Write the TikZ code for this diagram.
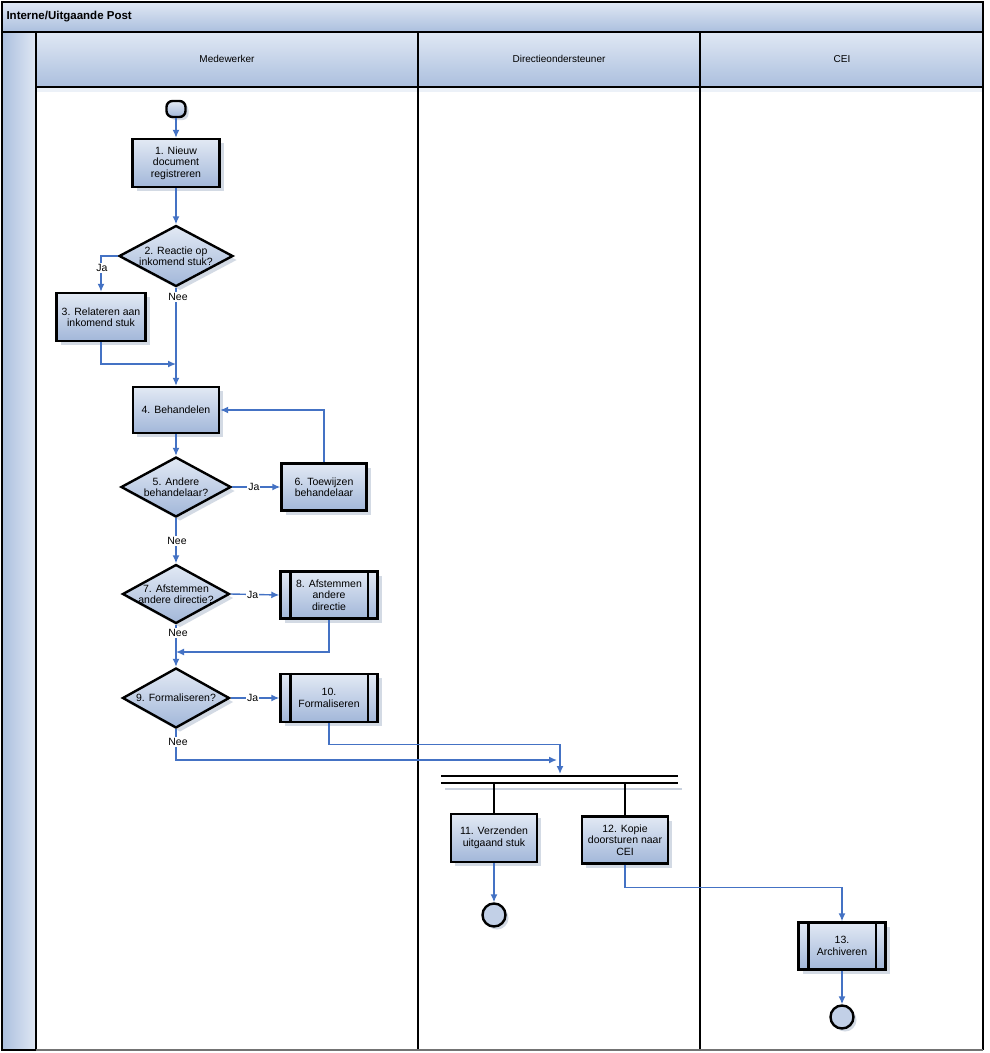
\documentclass[tikz,border=0pt]{standalone}
\usepackage{fontspec}
\setmainfont{Liberation Sans}
\usetikzlibrary{shadows,arrows.meta,shapes.geometric,calc}
\definecolor{flowblue}{HTML}{4472C4}
\definecolor{boxtop}{HTML}{E2E9F4}
\definecolor{boxbot}{HTML}{A2B7D9}
\definecolor{hdrtop}{HTML}{E0E8F4}
\definecolor{hdrbot}{HTML}{ABBFDE}
\definecolor{endfill}{HTML}{C2D0E7}
\definecolor{shadowc}{HTML}{C9D1DE}
\tikzset{
  every node/.style={font=\fontsize{10.5}{11.5}\selectfont},
  procbox/.style={draw=black, line width=2.4pt, top color=boxtop, bottom color=boxbot,
    align=center, inner sep=1pt,
    drop shadow={shadow xshift=4pt, shadow yshift=-4pt, fill=shadowc, opacity=0.8}},
  decision/.style={diamond, draw=black, line width=2.4pt, top color=boxtop, bottom color=boxbot,
    inner sep=0pt, aspect=1.8,
    drop shadow={shadow xshift=4pt, shadow yshift=-4pt, fill=shadowc, opacity=0.8}},
  endnode/.style={circle, draw=black, line width=2.4pt, fill=endfill, minimum size=23pt, inner sep=0pt,
    drop shadow={shadow xshift=3pt, shadow yshift=-3pt, fill=shadowc, opacity=0.8}},
  flow/.style={draw=flowblue, line width=1.4pt, -{Latex[length=8pt,width=7pt]}},
  edgelbl/.style={fill=white, inner sep=1pt, font=\fontsize{10.5}{11}\selectfont},
  hdr/.style={draw=black, line width=2pt, top color=hdrtop, bottom color=hdrbot},
  lanetext/.style={font=\fontsize{10}{11}\selectfont},
  barline/.style={draw=black, line width=2.4pt},
  sidebar/.style={draw=black, line width=2.4pt}
}
\begin{document}
\begin{tikzpicture}[x=1pt,y=-1pt]
\useasboundingbox (0,0) rectangle (990,1053);
\fill[white] (0,0) rectangle (990,1053);
% title bar
\path[hdr] (2,2) rectangle (983,32);
\node[anchor=west, font=\bfseries\fontsize{11.5}{12}\selectfont] (title) at (3,17) {Interne/Uitgaande Post};
% left strip
\path[draw=black, line width=2pt, left color=hdrbot, right color=hdrtop] (2,32) rectangle (36,1050);
% lane headers
\path[hdr] (36,32) rectangle (418,87);
\path[hdr] (418,32) rectangle (700,87);
\path[hdr] (700,32) rectangle (983,87);
\node[lanetext] (l1) at (227,59) {Medewerker};
\node[lanetext] (l2) at (559,59) {Directieondersteuner};
\node[lanetext] (l3) at (842,59) {CEI};
% lane bodies
\fill[hdrtop!60] (37,88) rectangle (982,92);
\draw[black, line width=2pt] (36,87) -- (36,1050);
\draw[black, line width=2pt] (418,87) -- (418,1050);
\draw[black, line width=2pt] (700,87) -- (700,1050);
\draw[black, line width=2pt] (983,87) -- (983,1050);
\draw[black!55, line width=1.6pt] (36,1050) -- (983,1050);

% nodes
\node[draw=black, line width=2.4pt, top color=boxtop, bottom color=boxbot, rounded corners=6pt,
  minimum width=19pt, minimum height=16pt, inner sep=0pt,
  drop shadow={shadow xshift=3pt, shadow yshift=-3pt, fill=shadowc, opacity=0.8}] (s) at (176,109) {};
\node[procbox, minimum width=87pt, minimum height=48pt] (b1) at (176,163) {1. Nieuw\\document\\registreren};
\node[decision, minimum width=114pt, minimum height=61pt,
  label={[align=center]center:2. Reactie op\\inkomend stuk?}] (d2) at (176,256) {};
\node[procbox, minimum width=89pt, minimum height=48pt] (b3) at (101,317) {3. Relateren aan\\inkomend stuk};
\node[procbox, minimum width=86pt, minimum height=46pt] (b4) at (176,410) {4. Behandelen};
\node[decision, minimum width=110pt, minimum height=60pt,
  label={[align=center]center:5. Andere\\behandelaar?}] (d5) at (176,487) {};
\node[procbox, minimum width=85pt, minimum height=47pt] (b6) at (324,487) {6. Toewijzen\\behandelaar};
\node[decision, minimum width=107pt, minimum height=59pt,
  label={[align=center]center:7. Afstemmen\\andere directie?}] (d7) at (176,594) {};
\node[procbox, minimum width=97pt, minimum height=47pt] (b8) at (329,595) {8. Afstemmen\\andere\\directie};
\node[decision, minimum width=107pt, minimum height=60pt,
  label={[align=center]center:9. Formaliseren?}] (d9) at (176,698) {};
\node[procbox, minimum width=97pt, minimum height=48pt] (b10) at (329,698) {10.\\Formaliseren};
\node[procbox, minimum width=86pt, minimum height=48pt] (b11) at (494,838) {11. Verzenden\\uitgaand stuk};
\node[procbox, minimum width=86pt, minimum height=47pt] (b12) at (625,840) {12. Kopie\\doorsturen naar\\CEI};
\node[endnode] (e1) at (494,915) {};
\node[procbox, minimum width=87pt, minimum height=47pt] (b13) at (842,946) {13.\\Archiveren};
\node[endnode] (e2) at (842,1017) {};

% predefined-process side bars
\foreach \n in {b8,b10,b13}{
  \draw[sidebar] ($(\n.north west)+(11,0)$) -- ($(\n.south west)+(11,0)$);
  \draw[sidebar] ($(\n.north east)+(-11,0)$) -- ($(\n.south east)+(-11,0)$);
}

% fork bar
\coordinate (fL1) at (441,776);
\coordinate (fR1) at (678,776);
\coordinate (fL2) at (441,783);
\coordinate (fR2) at (678,783);
\draw[shadowc, line width=2.4pt] (445,789) -- (682,789);
\draw[barline] (fL1) -- (fR1);
\draw[barline] (fL2) -- (fR2);
\coordinate (fin) at (560,774);
\coordinate (st1) at (b11.north |- fL2);
\coordinate (st2) at (b12.north |- fL2);
\draw[barline] (st1) -- (b11.north);
\draw[barline] (st2) -- (b12.north);

% connectors
\coordinate (m1) at (176,364);
\coordinate (m2) at (176,652);
\coordinate (m3) at (557,760);
\draw[flow] (s.south) -- (b1.north);
\draw[flow] (b1.south) -- (d2.north);
\draw[flow] (d2.west) -| (b3.north);
\node[edgelbl] (ja2) at (102,268) {Ja};
\draw[flow] (d2.south) -- (b4.north);
\node[edgelbl] (nee2) at (178,297) {Nee};
\draw[flow] (b3.south) |- (m1);
\draw[flow] (b4.south) -- (d5.north);
\draw[flow] (d5.east) -- (b6.west) node[edgelbl, pos=0.45] (ja5) {Ja};
\draw[flow] (b6.north) |- (b4.east);
\draw[flow] (d5.south) -- (d7.north);
\node[edgelbl] (nee5) at (177,541) {Nee};
\draw[flow] (d7.east) -- (b8.west) node[edgelbl, pos=0.45] (ja7) {Ja};
\draw[flow] (d7.south) -- (d9.north);
\node[edgelbl] (nee7) at (178,633) {Nee};
\draw[flow] (b8.south) |- (m2);
\draw[flow] (d9.east) -- (b10.west) node[edgelbl, pos=0.45] (ja9) {Ja};
\draw[flow] (b10.south) -- ++(0,21) -| (fin);
\draw[flow] (d9.south) |- (m3);
\node[edgelbl] (nee9) at (178,742) {Nee};
\draw[flow] (b11.south) -- (e1.north);
\draw[flow] (b12.south) -- ++(0,23) -| (b13.north);
\draw[flow] (b13.south) -- (e2.north);
\end{tikzpicture}
\end{document}
